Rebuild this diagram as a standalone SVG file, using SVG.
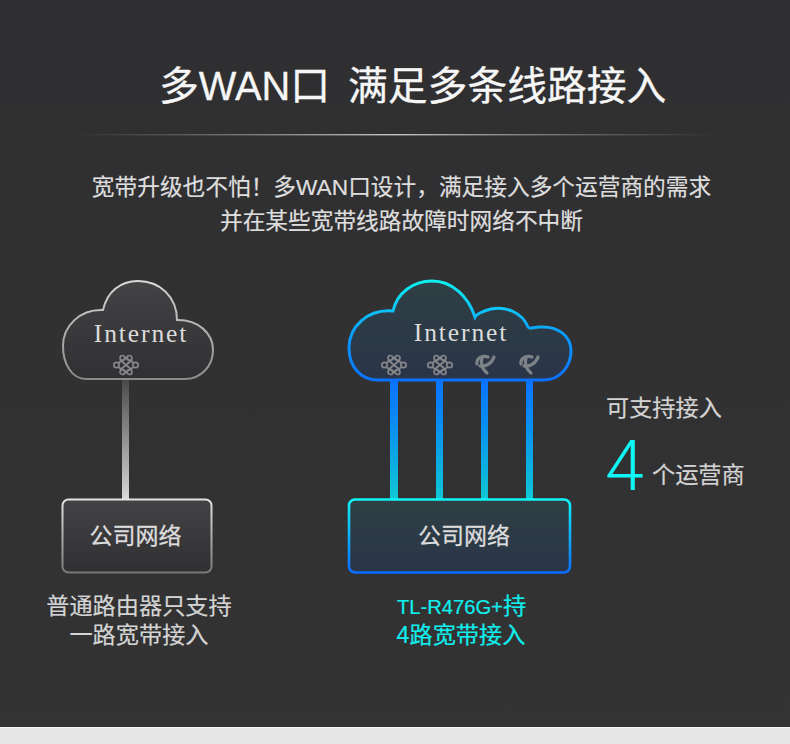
<svg xmlns="http://www.w3.org/2000/svg" width="790" height="744" viewBox="0 0 790 744">
<defs>
<linearGradient id="bg" x1="0" y1="0" x2="0" y2="1"><stop offset="0" stop-color="#2f2f31"/><stop offset="1" stop-color="#333334"/></linearGradient>
<linearGradient id="rule" x1="0" y1="0" x2="1" y2="0"><stop offset="0" stop-color="#aaa" stop-opacity="0"/><stop offset=".5" stop-color="#c4c4c4"/><stop offset="1" stop-color="#aaa" stop-opacity="0"/></linearGradient>
<linearGradient id="gs" gradientUnits="userSpaceOnUse" x1="0" y1="281" x2="0" y2="380"><stop offset="0" stop-color="#d8d8d8"/><stop offset="1" stop-color="#8a8a8a"/></linearGradient>
<linearGradient id="gf" x1="0" y1="0" x2="0" y2="1"><stop offset="0" stop-color="#434345"/><stop offset="1" stop-color="#303032"/></linearGradient>
<linearGradient id="bs" gradientUnits="userSpaceOnUse" x1="0" y1="281" x2="0" y2="380"><stop offset="0" stop-color="#0ff0f0"/><stop offset=".55" stop-color="#0a9cff"/><stop offset="1" stop-color="#0a72ff"/></linearGradient>
<linearGradient id="bf" x1="0" y1="0" x2="0" y2="1"><stop offset="0" stop-color="#2f3f44"/><stop offset="1" stop-color="#2a3548"/></linearGradient>
<linearGradient id="rs" gradientUnits="userSpaceOnUse" x1="0" y1="499" x2="0" y2="573"><stop offset="0" stop-color="#0ff5f5"/><stop offset="1" stop-color="#0a6cff"/></linearGradient>
<linearGradient id="gr" gradientUnits="userSpaceOnUse" x1="0" y1="499" x2="0" y2="573"><stop offset="0" stop-color="#e4e4e4"/><stop offset="1" stop-color="#777"/></linearGradient>
<linearGradient id="gl" gradientUnits="userSpaceOnUse" x1="0" y1="380" x2="0" y2="499"><stop offset="0" stop-color="#4a4a4a"/><stop offset="1" stop-color="#d8d8d8"/></linearGradient>
<linearGradient id="bl" gradientUnits="userSpaceOnUse" x1="0" y1="380" x2="0" y2="499"><stop offset="0" stop-color="#0a72ff"/><stop offset=".4" stop-color="#0a90f0"/><stop offset="1" stop-color="#0fc8d4"/></linearGradient>
<g id="unicom" fill="none" stroke="#85878a" stroke-width="1.7"><circle cx="-9.500" cy="0" r="2.700"/><circle cx="9.500" cy="0" r="2.700"/><circle cx="-3.500" cy="-7" r="2.500"/><circle cx="3.500" cy="-7" r="2.500"/><circle cx="-3.500" cy="7" r="2.500"/><circle cx="3.500" cy="7" r="2.500"/><path d="M-6-5 6 5M6-5-6 5M-2-8 8-2M2-8-8-2M-2 8 8 2M2 8-8 2"/></g>
<g id="telecom" fill="none" stroke="#7c8287" stroke-linecap="round" stroke-width="3.200"><path d="M-8-1C-9-7-2-10 3-8"/><path d="M-3-7C-5-1-2 5 2 8"/><path d="M-5 1C1 2 7-2 9-8"/></g>
</defs>
<style>
text{font-family:"Liberation Sans","Noto Sans CJK SC",sans-serif;stroke:currentColor}
.ser{font-family:"Liberation Serif","DejaVu Serif",serif;fill:#dcdcdc;font-size:25.500px;letter-spacing:1.900px;stroke:none}
.sub{fill:#dedede;color:#dedede;font-size:22.700px;stroke-width:.2px}
.box{fill:#dcdcdc;color:#dcdcdc;font-size:23px;stroke-width:.3px}
.cap{font-size:23.200px;stroke-width:.2px}
.ttl{fill:#f6f6f6;color:#f6f6f6;font-size:39.800px;stroke-width:.3px}
.lat{font-size:20.200px}
.grey{fill:#d4d4d4;color:#d4d4d4}
.cyan{fill:#10eeee;color:#10eeee}
.num{font-family:Roboto,"Liberation Sans",sans-serif;font-weight:300;font-size:70px;fill:#10f5f5;stroke:none}
</style>
<rect width="790" height="744" fill="url(#bg)"/>
<rect y="727" width="790" height="17" fill="#e6e6e6"/>
<rect y="727" width="790" height="1" fill="#f6f6f6"/>
<g id="heading">
<text x="159" y="100" class="ttl">多WAN口</text>
<text x="348" y="100" class="ttl">满足多条线路接入</text>
<rect x="75" y="134" width="640" height="1.400" fill="url(#rule)"/>
<text x="401.500" y="195" text-anchor="middle" class="sub">宽带升级也不怕！多WAN口设计，满足接入多个运营商的需求</text>
<text x="401.500" y="229" text-anchor="middle" class="sub">并在某些宽带线路故障时网络不中断</text>
</g>
<g id="connectors">
<rect x="122" y="378" width="7" height="122" fill="url(#gl)"/>
<rect x="390" y="378" width="8" height="122" fill="url(#bl)"/>
<rect x="436" y="378" width="7" height="122" fill="url(#bl)"/>
<rect x="481" y="378" width="7" height="122" fill="url(#bl)"/>
<rect x="526" y="378" width="7" height="122" fill="url(#bl)"/>
</g>
<g id="cloud-left">
<path d="M86 379H185C201 379 213 366 213 350 213 333 198 320 178 320H177C177 297 160 281 138 281 120 281 107 292 103 310 80 309 63 326 63 346 63 364 72 379 86 379Z" fill="url(#gf)" stroke="url(#gs)" stroke-width="2"/>
<text x="141" y="342" text-anchor="middle" class="ser">Internet</text>
<use href="#unicom" x="126" y="365"/>
</g>
<g id="cloud-right">
<path d="M378 380H544C560 380 571 366 571 351 571 335 557 326 540 327 530 328 530 329 528 327 522 312 505 306 491 309 482 311 476 315 475 317 468 296 452 281 432 281 413 281 397 293 393 311 367 309 349 327 349 348 349 366 360 380 378 380Z" fill="url(#bf)" stroke="url(#bs)" stroke-width="3"/>
<text x="461" y="341" text-anchor="middle" class="ser">Internet</text>
<use href="#unicom" x="394" y="365"/>
<use href="#unicom" x="440" y="365"/>
<use href="#telecom" x="485" y="365"/>
<use href="#telecom" x="529" y="365"/>
</g>
<g id="box-left">
<rect x="62.500" y="499.500" width="149" height="73" rx="6" fill="url(#gf)" stroke="url(#gr)" stroke-width="2"/>
<text x="135.500" y="544" text-anchor="middle" class="box">公司网络</text>
</g>
<g id="box-right">
<rect x="349" y="499.500" width="221" height="73" rx="6" fill="url(#bf)" stroke="url(#rs)" stroke-width="2.600"/>
<text x="464" y="544" text-anchor="middle" class="box">公司网络</text>
</g>
<g id="caption-left">
<text x="139" y="614" text-anchor="middle" class="cap grey">普通路由器只支持</text>
<text x="139" y="643" text-anchor="middle" class="cap grey">一路宽带接入</text>
</g>
<g id="caption-right">
<text x="461.500" y="614" text-anchor="middle" class="cap cyan"><tspan class="lat">TL-R476G+</tspan>持</text>
<text x="461" y="643" text-anchor="middle" class="cap cyan">4路宽带接入</text>
</g>
<g id="count">
<text x="606" y="416" class="cap grey">可支持接入</text>
<text x="605" y="490" class="num">4</text>
<text x="652" y="483" class="cap grey">个运营商</text>
</g>
</svg>
